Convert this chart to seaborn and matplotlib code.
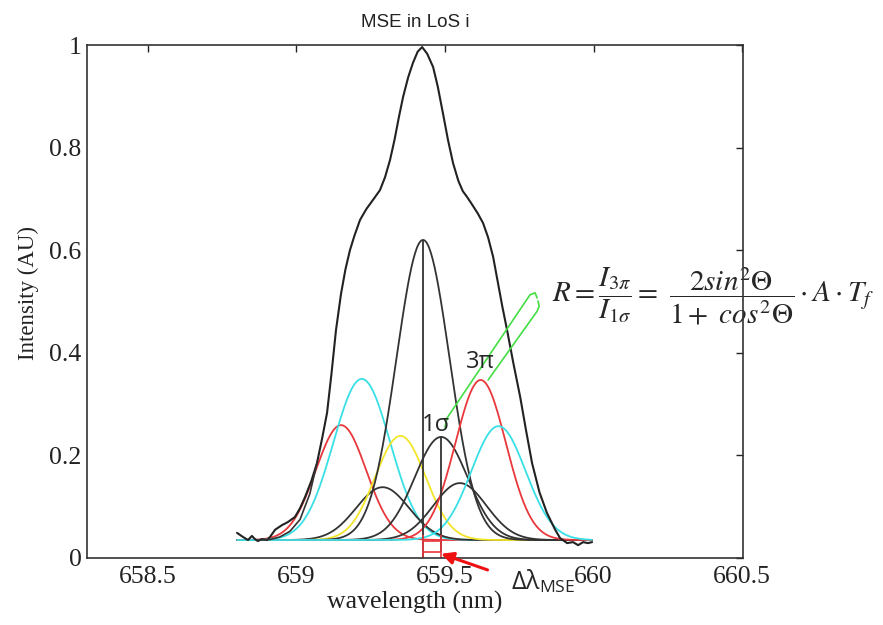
import numpy as np
import pandas as pd
import matplotlib
matplotlib.use("Agg")
import matplotlib.pyplot as plt
import seaborn as sns

# ---------------- data ----------------
# Gaussian fit components (centre nm, peak intensity, FWHM nm)
comp_names = ["sigma_L2", "sigma_L1", "pi_L2", "pi_L1", "pi_0", "sigma_1", "pi_R2", "pi_3", "sigma_R1"]
comp_centers = [659.15, 659.22, 659.29, 659.35, 659.426, 659.487, 659.55, 659.62, 659.68]
comp_peaks = [0.259, 0.349, 0.138, 0.238, 0.620, 0.236, 0.146, 0.347, 0.257]
comp_fwhm = [0.200, 0.225, 0.210, 0.200, 0.210, 0.210, 0.210, 0.200, 0.215]
comp_colors = ["#e8383c", "#38e0e6", "#333333", "#f2e52a", "#333333", "#333333", "#333333", "#e8383c", "#38e0e6"]
baseline = 0.035
wl_start, wl_end = 658.80, 659.995

# measured total spectrum (black)
total_wl = [658.800, 658.820, 658.837, 658.850, 658.860, 658.870, 658.884, 658.901, 658.911,
            658.928, 658.951, 658.971, 658.995, 659.012, 659.029, 659.050, 659.069, 659.086,
            659.103, 659.118, 659.133, 659.150, 659.165, 659.180, 659.195, 659.214, 659.235,
            659.260, 659.281, 659.298, 659.315, 659.330, 659.345, 659.359, 659.376, 659.392,
            659.408, 659.423, 659.440, 659.460, 659.476, 659.493, 659.510, 659.527, 659.545,
            659.560, 659.574, 659.590, 659.610, 659.628, 659.645, 659.662, 659.677, 659.693,
            659.709, 659.730, 659.753, 659.773, 659.793, 659.818, 659.843, 659.870, 659.887,
            659.911, 659.931, 659.948, 659.965, 659.981, 659.995]
total_I = [0.049, 0.041, 0.035, 0.043, 0.037, 0.033, 0.037, 0.035, 0.041,
           0.055, 0.064, 0.070, 0.080, 0.097, 0.119, 0.150, 0.185, 0.232,
           0.283, 0.360, 0.444, 0.515, 0.563, 0.600, 0.628, 0.659, 0.680,
           0.700, 0.717, 0.742, 0.776, 0.815, 0.860, 0.899, 0.937, 0.965,
           0.987, 0.996, 0.983, 0.957, 0.918, 0.867, 0.815, 0.770, 0.735,
           0.715, 0.704, 0.690, 0.672, 0.653, 0.625, 0.587, 0.540, 0.490,
           0.444, 0.380, 0.314, 0.248, 0.185, 0.128, 0.088, 0.056, 0.039,
           0.029, 0.031, 0.025, 0.031, 0.029, 0.031]

# smooth fit total near the left foot (second black line)
fit_wl = [658.870, 658.911, 658.944, 658.978, 659.012, 659.045, 659.069]
fit_I = [0.035, 0.036, 0.041, 0.052, 0.075, 0.125, 0.185]

pi0_wl, sigma1_wl = 659.426, 659.487   # the two marked line positions
pi0_top, sigma1_top = 0.620, 0.236

xticks = [658.5, 659.0, 659.5, 660.0, 660.5]
xticklabels = ["658.5", "659", "659.5", "660", "660.5"]
yticks = [0, 0.2, 0.4, 0.6, 0.8, 1.0]
yticklabels = ["0", "0.2", "0.4", "0.6", "0.8", "1"]

# ---------------- build long-form table ----------------
grid = np.linspace(wl_start, wl_end, 400)
rows = []
for n, c, p, f in zip(comp_names, comp_centers, comp_peaks, comp_fwhm):
    s = f / 2.3548
    amp = p - baseline
    for x in grid:
        rows.append((n, x, baseline + amp * np.exp(-0.5 * ((x - c) / s) ** 2)))
df = pd.DataFrame(rows, columns=["component", "wavelength", "intensity"])
palette = dict(zip(comp_names, comp_colors))

# ---------------- figure ----------------
sns.set_theme(style="white")
plt.rcParams["font.family"] = ["Liberation Serif", "DejaVu Serif"]
plt.rcParams["mathtext.fontset"] = "stix"

fig = plt.figure(figsize=(8.83, 6.25), dpi=100)
ax = fig.add_axes([87 / 883, 1 - 558 / 625, (743 - 87) / 883, (558 - 45) / 625])

sns.lineplot(data=df, x="wavelength", y="intensity", hue="component", palette=palette,
             hue_order=comp_names, estimator=None, sort=False, legend=False,
             linewidth=1.3, ax=ax)

sns.lineplot(x=total_wl, y=total_I, color="#222222", linewidth=1.5, sort=False,
             estimator=None, ax=ax)
sns.lineplot(x=fit_wl, y=fit_I, color="#333333", linewidth=1.2, sort=False,
             estimator=None, ax=ax)

# marked positions
ax.vlines([pi0_wl], 0, pi0_top, color="#333333", lw=1.3)
ax.vlines([sigma1_wl], 0.012, sigma1_top, color="#333333", lw=1.3)
# red delta-lambda bracket
ax.vlines([pi0_wl, sigma1_wl], 0, 0.045, color="#e8383c", lw=1.2)
ax.hlines([0.034, 0.011], pi0_wl, sigma1_wl, color="#e8383c", lw=1.2)

ax.set_xlim(658.295, 660.503)
ax.set_ylim(0, 1)
ax.set_xticks(xticks)
ax.set_xticklabels(xticklabels)
ax.set_yticks(yticks)
ax.set_yticklabels(yticklabels)
ax.tick_params(direction="in", length=5, width=1, top=True, right=True,
               labelsize=18.5, pad=6, colors="#222222")
ax.tick_params(axis="y", pad=4)
for sp in ax.spines.values():
    sp.set_color("#333333")
    sp.set_linewidth(1.2)
    sp.set_visible(True)

ax.set_xlabel("wavelength (nm)", fontsize=18.5, labelpad=2, color="#222222")
ax.set_ylabel("")
fig.text(28 / 883, 1 - 293 / 625, "Intensity (AU)", fontsize=16.5, color="#222222",
         rotation=90, ha="center", va="center")
ax.set_title("MSE in LoS i", fontsize=13.5, family=["Liberation Sans"], pad=13, color="#222222")

# green hand-drawn loop annotation
ax.plot([659.500, 659.507, 659.786, 659.803, 659.810],
        [0.255, 0.273, 0.513, 0.517, 0.507], color="#44dd44", lw=1.2, clip_on=False)
ax.plot([659.645, 659.810, 659.817, 659.813],
        [0.347, 0.481, 0.491, 0.501], color="#44dd44", lw=1.2, clip_on=False)

# labels
sans = ["Open Sans", "DejaVu Sans"]
ax.text(659.618, 0.382, "3π", fontsize=17, family=sans, ha="center", va="center")
ax.text(659.468, 0.259, "1σ", fontsize=17, family=sans, ha="center", va="center")

ax.annotate("", xy=(659.478, 0.010), xytext=(659.652, -0.025),
            arrowprops=dict(arrowstyle="-|>", color="#ee1111", lw=2.2, mutation_scale=18),
            annotation_clip=False)
fig.text(511 / 883, 1 - 582 / 625, r"Δλ$_{\mathregular{MSE}}$", fontsize=18,
         family=sans, ha="left", va="center")

ax.text((552 - 87) / 656, (558 - 296) / 513,
        r"$R=\dfrac{I_{3\pi}}{I_{1\sigma}}=\ \dfrac{2sin^2\Theta}{1+\ cos^2\Theta}\cdot A\cdot T_f$",
        transform=ax.transAxes, fontsize=21, ha="left", va="center", zorder=1, clip_on=False)

fig.savefig("out.png", dpi=100)
